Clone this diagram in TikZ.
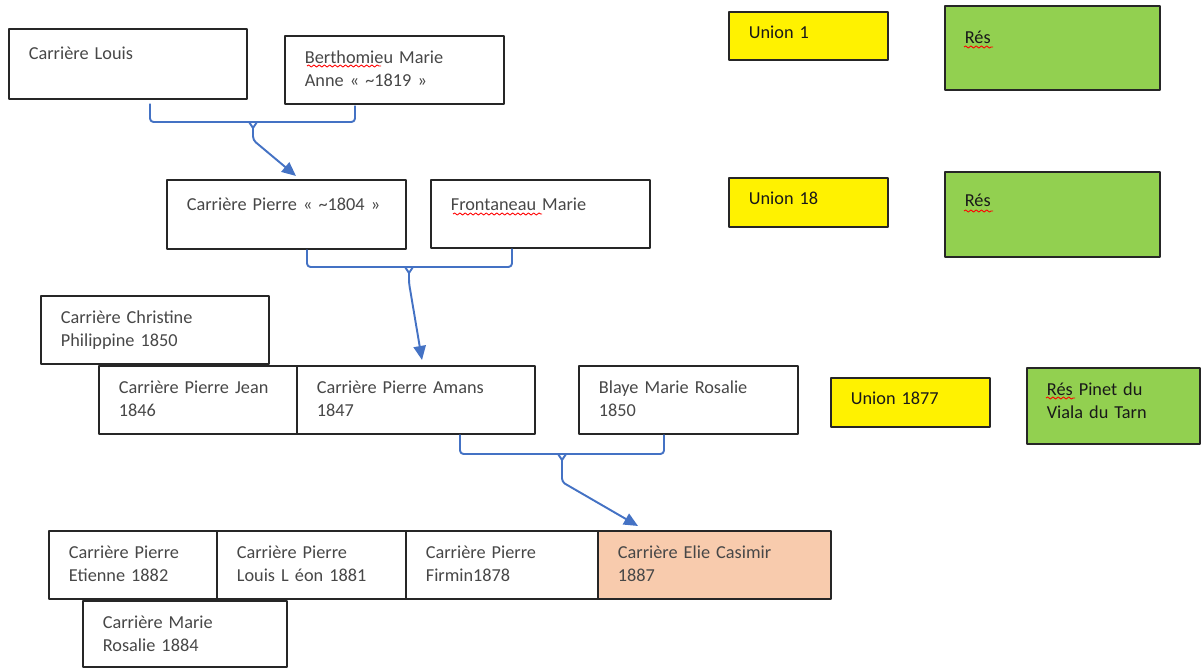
\documentclass[tikz,border=0pt]{standalone}
\usepackage{fontspec}
\setmainfont{Carlito}
\usetikzlibrary{calc,arrows.meta,decorations.pathmorphing}

\definecolor{bleu}{HTML}{4472C4}
\definecolor{vert}{HTML}{92D050}
\definecolor{saumon}{HTML}{F8CBAD}

\tikzset{
  boite/.style 2 args={draw=black!85, line width=1pt, anchor=north west, align=left,
    inner xsep=0.4cm, inner ysep=0pt, text width=#1, text height=0.56cm, text depth=#2,
    font=\fontsize{10.4}{13}\selectfont, text=black!72},
  union/.style={fill=yellow, text=black!90, text height=0.54cm},
  res/.style={fill=vert, text=black!90},
  accolade/.style={draw=bleu, line width=1.1pt, rounded corners=2pt},
  souligne/.style={red, line width=0.5pt, decorate,
    decoration={snake, amplitude=0.6pt, segment length=3pt}}
}

\begin{document}
\begin{tikzpicture}[x=0.02cm, y=-0.02cm, >={Triangle[length=8pt,width=7pt]}, line join=round]
    \useasboundingbox (0,0) rectangle (1203,668);

    % 第一代
    \node[boite={3.96cm}{0.78cm}, text height=0.62cm] (louis) at (8,28) {Carrière Louis};
    \node[boite={3.58cm}{0.80cm}] (berthomieu) at (284,35) {Berthomieu Marie\\Anne « \textasciitilde1819 »};

    % 第二代
    \node[boite={3.98cm}{0.76cm}, text height=0.62cm] (pierre) at (166,179) {Carrière Pierre « \textasciitilde1804 »};
    \node[boite={3.58cm}{0.74cm}, text height=0.62cm] (frontaneau) at (430,179) {Frontaneau Marie};

    % 第三代
    \node[boite={3.76cm}{0.80cm}] (christine) at (40,295) {Carrière Christine\\Philippine 1850};
    \node[boite={3.16cm}{0.80cm}] (pierrejean) at (98,365) {Carrière Pierre Jean\\1846};
    \node[boite={3.96cm}{0.80cm}] (amans) at (296,365) {Carrière Pierre Amans\\1847};
    \node[boite={3.58cm}{0.80cm}] (blaye) at (578,365) {Blaye Marie Rosalie\\1850};

    % 第四代
    \node[boite={2.56cm}{0.80cm}] (etienne) at (48,530) {Carrière Pierre\\Etienne 1882};
    \node[boite={2.98cm}{0.80cm}] (louisleon) at (216,530) {Carrière Pierre\\Louis L éon 1881};
    \node[boite={3.04cm}{0.80cm}] (firmin) at (405,530) {Carrière Pierre\\Firmin1878};
    \node[boite={3.86cm}{0.80cm}, fill=saumon] (elie) at (597,530) {Carrière Elie Casimir\\1887};
    \node[boite={3.28cm}{0.76cm}] (marierosalie) at (82,600) {Carrière Marie\\Rosalie 1884};

    % 婚姻与居所
    \node[boite={2.38cm}{0.42cm}, union] (union1) at (728,11) {Union 1};
    \node[boite={3.50cm}{0.92cm}, res, text height=0.76cm] (res1) at (944,5) {Rés};
    \node[boite={2.38cm}{0.44cm}, union] (union18) at (728,177) {Union 18};
    \node[boite={3.50cm}{1.00cm}, res, text height=0.70cm] (res2) at (944,171) {Rés};
    \node[boite={2.38cm}{0.44cm}, union] (union1877) at (830,377) {Union 1877};
    \node[boite={2.66cm}{0.96cm}, res] (respinet) at (1026,367) {Rés Pinet du\\Viala du Tarn};

    % 拼写检查波浪线
    \draw[souligne] (307,66) -- (381,66);
    \draw[souligne] (453,214) -- (542,214);
    \draw[souligne] (964,47) -- (993,47);
    \draw[souligne] (964,211) -- (993,211);
    \draw[souligne] (1046,398) -- (1075,398);

    % 括号与箭头: Louis + Berthomieu -> Pierre
    \draw[accolade] ($(louis.south west)+(142,4)$) |- (253,122) -| ($(berthomieu.south west)+(71,1)$);
    \draw[accolade, rounded corners=0pt] (249,122) -- (253,128) -- (257,122);
    \draw[accolade, ->] (253,128) -- (253,140) -- ($(pierre.north west)+(130,-3)$);

    % Pierre + Frontaneau -> Amans
    \draw[accolade] ($(pierre.south west)+(141,0)$) |- (409,267) -| ($(frontaneau.south west)+(82,0)$);
    \draw[accolade, rounded corners=0pt] (405,267) -- (409,273) -- (413,267);
    \draw[accolade, ->] (409,273) -- (409,283) -- ($(amans.north west)+(126,-5)$);

    % Amans + Blaye -> Elie
    \draw[accolade] ($(amans.south west)+(164,0)$) |- (562,454) -| ($(blaye.south west)+(86,0)$);
    \draw[accolade, rounded corners=0pt] (558,454) -- (562,460) -- (566,454);
    \draw[accolade, ->] (562,460) -- (562,482) -- ($(elie.north west)+(41,-4)$);
\end{tikzpicture}
\end{document}
